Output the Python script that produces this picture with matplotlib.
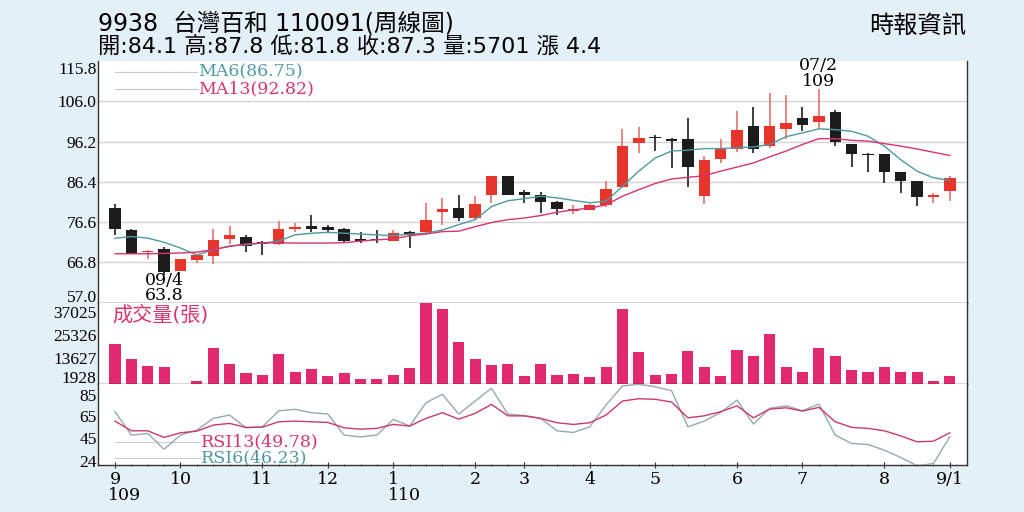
import matplotlib
matplotlib.use('Agg')
import matplotlib.pyplot as plt
import matplotlib.transforms as mtrans
import numpy as np

# weekly bars, 109/9 .. 110/9/1
opens  = [80.0, 74.6, 69.3, 70.0, 64.8, 67.4, 68.4, 72.5, 73.0, 71.6,
          71.3, 75.0, 75.7, 75.5, 75.0, 72.5, 72.4, 72.1, 74.1, 74.3,
          79.0, 80.0, 77.6, 83.1, 87.8, 84.0, 83.3, 81.6, 79.4, 79.6,
          80.8, 85.2, 95.9, 97.2, 96.6, 96.9, 82.9, 92.0, 94.4, 100.0,
          95.1, 99.2, 101.9, 100.9, 103.5, 95.5, 93.1, 93.1, 88.8, 86.7,
          82.8, 84.1]
highs  = [81.1, 74.9, 69.7, 70.5, 67.7, 68.7, 75.0, 75.7, 73.5, 72.0,
          76.8, 76.4, 78.4, 75.8, 75.2, 74.3, 74.7, 74.6, 74.4, 81.3,
          82.5, 83.3, 82.9, 87.8, 87.9, 84.5, 83.9, 81.8, 80.8, 81.0,
          86.5, 99.2, 99.8, 97.7, 97.1, 102.0, 92.6, 96.9, 103.6, 104.7,
          108.1, 107.5, 104.7, 109.0, 104.0, 95.5, 93.5, 93.1, 88.8, 86.7,
          83.8, 87.8]
lows   = [73.5, 68.9, 67.6, 63.8, 64.6, 66.6, 66.4, 71.3, 69.4, 68.5,
          71.1, 74.2, 74.3, 74.0, 71.6, 71.6, 71.5, 71.9, 70.3, 73.8,
          76.0, 76.8, 77.2, 81.3, 83.3, 81.3, 78.8, 78.4, 78.7, 79.6,
          80.4, 84.9, 93.5, 93.9, 89.8, 85.2, 81.1, 91.0, 93.6, 93.3,
          94.7, 96.9, 98.7, 99.3, 95.1, 90.0, 88.7, 86.1, 83.7, 80.6,
          81.3, 81.8]
closes = [75.0, 68.9, 69.5, 64.4, 67.7, 68.5, 72.3, 73.5, 70.8, 71.4,
          74.9, 75.5, 75.0, 74.7, 72.1, 71.9, 72.2, 73.9, 73.5, 77.2,
          79.8, 77.6, 81.1, 87.8, 83.3, 83.1, 81.6, 79.8, 79.7, 80.7,
          84.7, 95.1, 97.1, 97.0, 96.4, 90.0, 91.6, 94.3, 98.9, 94.3,
          100.0, 100.8, 100.2, 102.4, 96.1, 93.1, 92.9, 88.7, 86.5, 82.7,
          83.0, 87.3]

ma6  = [72.7, 73.1, 72.7, 71.7, 70.3, 68.6, 69.9, 70.8, 71.1, 71.5,
        72.0, 73.5, 73.9, 74.1, 73.9, 73.7, 73.5, 73.3, 73.7, 73.9,
        74.7, 76.0, 77.2, 80.4, 81.8, 82.3, 82.9, 82.5, 81.9, 81.3,
        81.7, 85.3, 89.0, 92.2, 93.9, 94.1, 94.5, 94.5, 94.7, 94.9,
        95.5, 97.4, 98.3, 99.3, 99.1, 98.7, 97.5, 95.1, 91.8, 89.0,
        87.4, 86.75]
ma13 = [68.9, 68.9, 68.9, 69.0, 69.1, 69.3, 69.9, 70.7, 71.3, 71.5,
        71.6, 71.5, 71.5, 71.5, 71.6, 72.0, 72.3, 72.5, 73.3, 73.7,
        74.3, 74.4, 75.5, 76.5, 77.2, 77.6, 78.2, 79.0, 79.6, 80.0,
        80.8, 82.9, 84.5, 86.0, 87.1, 87.5, 87.9, 89.0, 90.0, 91.0,
        92.5, 93.9, 95.5, 96.9, 96.9, 96.5, 96.3, 95.7, 95.1, 94.4,
        93.6, 92.82]

volume = [20740, 12870, 9570, 8900, 0, 1850, 18530, 10290, 5820, 4630,
          15750, 6490, 8030, 4270, 5820, 2730, 2730, 4630, 8540, 42000,
          38600, 21930, 13020, 10090, 10290, 4500, 10400, 4790, 5300, 3600,
          9060, 38600, 16780, 4790, 5460, 17140, 9060, 4270, 17500, 14570,
          25890, 8900, 6490, 18530, 14410, 7360, 6180, 8750, 6490, 6490,
          1700, 4270]

rsi6  = [68.9, 47.7, 49.2, 34.9, 47.7, 52.2, 62.9, 65.9, 54.3, 55.2,
         69.8, 71.1, 68.0, 66.8, 47.7, 46.1, 47.7, 62.0, 55.9, 77.1,
         84.7, 66.8, 78.6, 90.2, 66.8, 65.5, 62.9, 51.6, 50.1, 55.2,
         75.0, 92.3, 93.8, 91.6, 88.0, 55.2, 60.4, 68.3, 79.5, 57.7,
         72.0, 74.3, 69.8, 75.9, 47.7, 40.1, 39.2, 34.0, 27.4, 19.9,
         21.9, 46.23]
rsi13 = [60.4, 51.6, 51.6, 45.6, 49.8, 51.3, 56.8, 58.3, 54.7, 54.9,
         59.8, 60.4, 59.8, 59.2, 54.3, 53.1, 53.8, 57.4, 55.9, 62.9,
         68.0, 62.2, 67.4, 75.6, 65.2, 65.1, 62.9, 58.9, 57.4, 58.9,
         65.9, 78.6, 80.7, 80.2, 77.7, 63.4, 65.2, 68.9, 74.3, 63.4,
         71.3, 72.5, 69.5, 72.9, 59.8, 54.7, 53.8, 51.6, 47.0, 41.6,
         42.2, 49.78]

month_pos = [0, 4, 9, 13, 17, 22, 25, 29, 33, 38, 42, 47, 51]
month_lbl = ['9', '10', '11', '12', '1', '2', '3', '4', '5', '6', '7', '8', '9/1']
price_ticks = [57.0, 66.8, 76.6, 86.4, 96.2, 106.0, 115.8]
vol_ticks = [1928, 13627, 25326, 37025]
rsi_ticks = [24, 45, 65, 85]

BG = '#e4f0f7'
RED = '#e8352c'
BLK = '#1c1c1c'
TEAL = '#4f98a2'
PINK = '#d6336f'
VOLC = '#e2296f'
SERIF = 'Liberation Serif'
WSERIF = 'DejaVu Serif'
CJK = ['DejaVu Sans', 'Noto Sans CJK TC']

W, H = 1024, 512
fig = plt.figure(figsize=(10.24, 5.12), dpi=100, facecolor=BG)

def box(x0, y0, x1, y1):
    return [x0 / W, 1 - y1 / H, (x1 - x0) / W, (y1 - y0) / H]

def nudge(lab, dy):
    lab.set_transform(lab.get_transform() + mtrans.ScaledTranslation(0, dy / 100, fig.dpi_scale_trans))

ax_p = fig.add_axes(box(98, 61, 967, 302.7))
ax_v = fig.add_axes(box(98, 302.7, 967, 384.3), sharex=ax_p)
ax_r = fig.add_axes(box(98, 384.3, 967, 465.3), sharex=ax_p)

x = np.arange(len(closes))
o = np.array(opens); c = np.array(closes)
up = c >= o
col = np.where(up, RED, BLK)
wick_col = np.where(up, '#e8706a', BLK)

for ax in (ax_p, ax_v, ax_r):
    ax.set_facecolor('white')
    for s in ax.spines.values():
        s.set_color('#333333')
        s.set_linewidth(1.0)
    ax.spines['top'].set_visible(False)
    ax.tick_params(axis='y', length=0, labelsize=12.5, pad=1)

# price panel
for t in price_ticks[1:-1]:
    ax_p.axhline(t, color='#d4d4d4', lw=1.0, zorder=0)
ax_p.vlines(x, lows, highs, colors=wick_col, lw=1.2, zorder=2)
body_h = np.maximum(np.abs(c - o), 0.35)
ax_p.bar(x, body_h, bottom=np.minimum(o, c), width=0.7, color=col, zorder=3)
ax_p.plot(x, ma6, color=TEAL, lw=1.0, zorder=4)
ax_p.plot(x, ma13, color=PINK, lw=1.0, zorder=4)
ax_p.set_ylim(57.0, 115.8)
ax_p.set_yticks(price_ticks)
ax_p.set_yticklabels(['%.1f' % t for t in price_ticks], family=SERIF)
labs = ax_p.get_yticklabels()
nudge(labs[0], 7)
nudge(labs[-1], -7)

ax_p.plot([0, 5.0], [113.1, 113.1], color='#c8c8c8', lw=0.8)
ax_p.plot([0, 5.0], [109.0, 109.0], color='#c8c8c8', lw=0.8)
ax_p.text(5.05, 113.1, 'MA6(86.75)', color=TEAL, family=WSERIF, fontsize=12.5, va='center')
ax_p.text(5.05, 109.0, 'MA13(92.82)', color=PINK, family=WSERIF, fontsize=12.5, va='center')

ax_p.text(3, 62.4, '09/4', family=WSERIF, fontsize=12.5, ha='center', va='center')
ax_p.text(3, 58.7, '63.8', family=WSERIF, fontsize=12.5, ha='center', va='center')
ax_p.text(43, 114.6, '07/2', family=WSERIF, fontsize=12.5, ha='center', va='center')
ax_p.text(43, 110.8, '109', family=WSERIF, fontsize=12.5, ha='center', va='center')

# volume panel
ax_v.bar(x, volume, width=0.68, color=VOLC, zorder=2)
ax_v.set_ylim(0, 42000)
ax_v.set_yticks(vol_ticks)
ax_v.set_yticklabels([str(t) for t in vol_ticks], family=SERIF)
nudge(ax_v.get_yticklabels()[0], 4)
ax_v.text(-0.15, 36000, '成交量(張)', color=PINK, family=CJK, fontsize=14.5, va='center')

# rsi panel
ax_r.plot(x, rsi6, color='#97a9ab', lw=1.0, zorder=3)
ax_r.plot(x, rsi13, color='#c83a6c', lw=1.0, zorder=3)
ax_r.set_ylim(20.3, 93.8)
ax_r.set_yticks(rsi_ticks)
ax_r.set_yticklabels([str(t) for t in rsi_ticks], family=SERIF)
nudge(ax_r.get_yticklabels()[-1], -1)
ax_r.plot([0, 5.2], [41.5, 41.5], color='#cccccc', lw=0.8)
ax_r.plot([0, 5.2], [26.8, 26.8], color='#cccccc', lw=0.8)
ax_r.text(5.25, 41.5, 'RSI13(49.78)', color=PINK, family=WSERIF, fontsize=12.5, va='center')
ax_r.text(5.25, 26.8, 'RSI6(46.23)', color=TEAL, family=WSERIF, fontsize=12.5, va='center')

ax_p.set_xlim(-1.04, 52.05)
ax_r.set_xticks(month_pos)
ax_r.set_xticklabels(month_lbl, family=WSERIF, fontsize=12.5)
ax_r.set_xticks(x, minor=True)
ax_r.tick_params(axis='x', which='major', length=4, direction='inout', pad=2, color='#333333')
ax_r.tick_params(axis='x', which='minor', length=2, direction='inout', color='#555555')
for ax in (ax_p, ax_v):
    ax.tick_params(axis='x', which='both', length=0, labelbottom=False)

yt = mtrans.blended_transform_factory(ax_r.transData, fig.transFigure)
ax_r.text(-0.45, 1 - 495 / H, '109', transform=yt, family=WSERIF, fontsize=12.5, va='center')
ax_r.text(16.7, 1 - 495 / H, '110', transform=yt, family=WSERIF, fontsize=12.5, va='center')

# header
fig.text(98 / W, 1 - 23 / H, '9938  台灣百和 110091(周線圖)', family=CJK, fontsize=17, va='center')
fig.text(98 / W, 1 - 46 / H, '開:84.1 高:87.8 低:81.8 收:87.3 量:5701 漲 4.4', family=CJK, fontsize=16, va='center')
fig.text(966 / W, 1 - 26 / H, '時報資訊', family=CJK, fontsize=17.5, va='center', ha='right')

fig.savefig('out.png', dpi=100, facecolor=BG)
